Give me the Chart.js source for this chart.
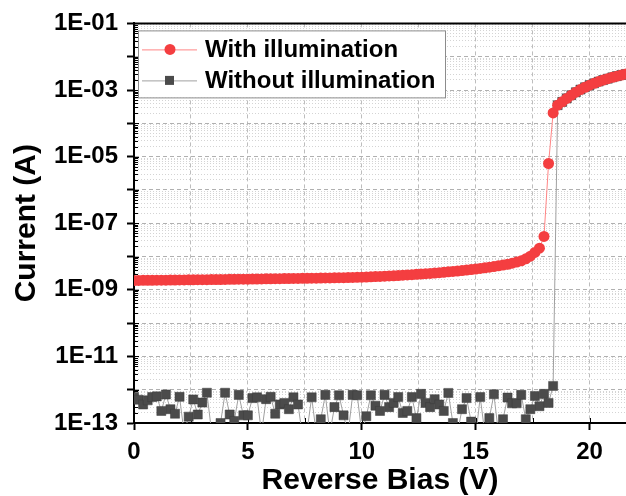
<!DOCTYPE html>
<html>
<head>
<meta charset="utf-8">
<script src="https://cdn.jsdelivr.net/npm/chart.js@4.4.1/dist/chart.umd.min.js"></script>
<style>
  html, body { margin: 0; padding: 0; background: #fff; }
  #wrap { width: 626px; height: 496px; }
</style>
</head>
<body>
<div id="wrap"><canvas id="ivChart"></canvas></div>
<script>
// reverse bias sweep (V)
const biasV = [
  0.0, 0.2, 0.4, 0.6, 0.8, 1.0, 1.2, 1.4, 1.6, 1.8,
  2.0, 2.2, 2.4, 2.6, 2.8, 3.0, 3.2, 3.4, 3.6, 3.8,
  4.0, 4.2, 4.4, 4.6, 4.8, 5.0, 5.2, 5.4, 5.6, 5.8,
  6.0, 6.2, 6.4, 6.6, 6.8, 7.0, 7.2, 7.4, 7.6, 7.8,
  8.0, 8.2, 8.4, 8.6, 8.8, 9.0, 9.2, 9.4, 9.6, 9.8,
  10.0, 10.2, 10.4, 10.6, 10.8, 11.0, 11.2, 11.4, 11.6, 11.8,
  12.0, 12.2, 12.4, 12.6, 12.8, 13.0, 13.2, 13.4, 13.6, 13.8,
  14.0, 14.2, 14.4, 14.6, 14.8, 15.0, 15.2, 15.4, 15.6, 15.8,
  16.0, 16.2, 16.4, 16.6, 16.8, 17.0, 17.2, 17.4, 17.6, 17.8,
  18.0, 18.2, 18.4, 18.6, 18.8, 19.0, 19.2, 19.4, 19.6, 19.8,
  20.0, 20.2, 20.4, 20.6, 20.8, 21.0, 21.2, 21.4, 21.6
];

// current with illumination (A)
const photoCurrent = [
  1.90e-9, 1.91e-9, 1.92e-9, 1.92e-9, 1.93e-9, 1.94e-9, 1.95e-9, 1.95e-9, 1.96e-9, 1.97e-9,
  1.98e-9, 1.98e-9, 1.99e-9, 2.00e-9, 2.01e-9, 2.01e-9, 2.02e-9, 2.03e-9, 2.04e-9, 2.04e-9,
  2.05e-9, 2.06e-9, 2.07e-9, 2.08e-9, 2.08e-9, 2.09e-9, 2.10e-9, 2.11e-9, 2.12e-9, 2.13e-9,
  2.14e-9, 2.15e-9, 2.16e-9, 2.17e-9, 2.18e-9, 2.19e-9, 2.20e-9, 2.21e-9, 2.22e-9, 2.23e-9,
  2.24e-9, 2.25e-9, 2.27e-9, 2.28e-9, 2.29e-9, 2.31e-9, 2.32e-9, 2.34e-9, 2.35e-9, 2.37e-9,
  2.39e-9, 2.42e-9, 2.45e-9, 2.49e-9, 2.52e-9, 2.56e-9, 2.60e-9, 2.64e-9, 2.69e-9, 2.74e-9,
  2.79e-9, 2.85e-9, 2.91e-9, 2.97e-9, 3.04e-9, 3.11e-9, 3.19e-9, 3.27e-9, 3.36e-9, 3.46e-9,
  3.56e-9, 3.67e-9, 3.79e-9, 3.92e-9, 4.06e-9, 4.21e-9, 4.38e-9, 4.56e-9, 4.76e-9, 4.98e-9,
  5.23e-9, 5.51e-9, 5.83e-9, 6.30e-9, 6.80e-9, 7.40e-9, 8.50e-9, 1.02e-8, 1.32e-8, 1.78e-8,
  4.0e-8, 6.2e-6, 2.05e-4, 3.5e-4, 4.4e-4, 5.6e-4, 7.0e-4, 8.6e-4, 1.03e-3, 1.21e-3,
  1.40e-3, 1.59e-3, 1.79e-3, 1.99e-3, 2.19e-3, 2.40e-3, 2.61e-3, 2.82e-3, 3.03e-3
];

// current without illumination (A), noise floor then breakdown
const darkCurrent = [
  6.0e-13, 5.0e-13, 3.6e-13, 4.8e-13, 6.0e-13, 6.3e-13, 2.3e-13, 7.2e-13, 2.6e-13, 1.9e-13,
  6.1e-13, 0.5e-13, 1.55e-13, 5.1e-13, 1.8e-13, 4.1e-13, 8.1e-13, 0.6e-13, 0.7e-13, 1.0e-13,
  8.1e-13, 1.8e-13, 1.15e-13, 7.0e-13, 1.7e-13, 1.7e-13, 5.6e-13, 5.9e-13, 0.5e-13, 5.2e-13,
  6.1e-13, 1.9e-13, 3.6e-13, 4.0e-13, 2.6e-13, 5.9e-13, 3.6e-13, 0.4e-13, 0.6e-13, 5.9e-13,
  0.5e-13, 1.3e-13, 7.0e-13, 0.5e-13, 3.0e-13, 6.8e-13, 1.7e-13, 0.5e-13, 7.0e-13, 6.8e-13,
  0.5e-13, 1.6e-13, 6.8e-13, 3.3e-13, 2.3e-13, 7.0e-13, 3.0e-13, 4.0e-13, 6.0e-13, 2.0e-13,
  2.3e-13, 6.0e-13, 1.4e-13, 7.5e-13, 4.0e-13, 3.0e-13, 5.2e-13, 3.6e-13, 2.3e-13, 8.0e-13,
  1.0e-13, 0.5e-13, 2.6e-13, 5.6e-13, 1.1e-13, 0.4e-13, 6.0e-13, 0.5e-13, 1.4e-13, 7.3e-13,
  0.5e-13, 1.3e-13, 5.8e-13, 3.9e-13, 3.9e-13, 7.0e-13, 1.3e-13, 2.6e-13, 6.5e-13, 3.2e-13,
  7.5e-13, 4.0e-13, 1.3e-12, 3.5e-4, 4.4e-4, 5.6e-4, 7.0e-4, 8.6e-4, 1.03e-3, 1.21e-3,
  1.40e-3, 1.59e-3, 1.79e-3, 1.99e-3, 2.19e-3, 2.40e-3, 2.61e-3, 2.82e-3, 3.03e-3
];

const seriesLabels = ["With illumination", "Without illumination"];

// axis ticks
const xTicks = [0, 2.5, 5, 7.5, 10, 12.5, 15, 17.5, 20];
const xMax = 21.6;
const yDecades = [-13, -12, -11, -10, -9, -8, -7, -6, -5, -4, -3, -2, -1];
const yMantissas = [1, 2, 3, 4, 5, 6, 7, 8, 9];

const FONT = "'Liberation Sans', Arial, sans-serif";

function toPoints(ys) {
  return biasV.map((x, i) => ({ x, y: ys[i] }));
}

function isDecade(v) {
  const l = Math.log10(v);
  return Math.abs(l - Math.round(l)) < 1e-6;
}

function yTickList() {
  const out = [];
  yDecades.forEach((e) => {
    const mants = e === -1 ? [1] : yMantissas;
    mants.forEach((m) => {
      out.push({ value: Number(m + "e" + e), major: m === 1 });
    });
  });
  return out;
}

function yLabel(v) {
  if (!isDecade(v)) return "";
  const e = Math.round(Math.log10(v));
  if (Math.abs(e) % 2 === 0) return "";
  return "1E-" + String(-e).padStart(2, "0");
}

// small inward ticks, top frame and the boxed legend
const framePlugin = {
  id: "frame",
  beforeDatasetsDraw(chart) {
    const { ctx, chartArea, scales } = chart;
    ctx.save();
    ctx.strokeStyle = "#000";
    ctx.lineWidth = 1;
    scales.y.ticks.forEach((t) => {
      const py = Math.round(scales.y.getPixelForValue(t.value)) + 0.5;
      const len = t.major ? 5 : 4;
      ctx.beginPath();
      ctx.moveTo(chartArea.left, py);
      ctx.lineTo(chartArea.left + len, py);
      ctx.stroke();
    });
    scales.x.ticks.forEach((t) => {
      const px = Math.round(scales.x.getPixelForValue(t.value)) + 0.5;
      ctx.beginPath();
      ctx.moveTo(px, chartArea.bottom);
      ctx.lineTo(px, chartArea.bottom - 5);
      ctx.stroke();
    });
    ctx.restore();
  },
  afterDraw(chart) {
    const { ctx, chartArea } = chart;
    ctx.save();
    ctx.strokeStyle = "#000";
    ctx.lineWidth = 2;
    ctx.beginPath();
    ctx.moveTo(chartArea.left, chartArea.top);
    ctx.lineTo(chartArea.right, chartArea.top);
    ctx.stroke();

    const x0 = chartArea.left + 4;
    const y0 = chartArea.top + 7;
    ctx.fillStyle = "#fff";
    ctx.fillRect(x0, y0, 307, 67);
    ctx.strokeStyle = "#8c8c8c";
    ctx.lineWidth = 1;
    ctx.strokeRect(x0 + 0.5, y0 + 0.5, 307, 67);

    chart.data.datasets.forEach((ds, i) => {
      const cy = y0 + 19 + i * 31;
      ctx.strokeStyle = ds.borderColor;
      ctx.lineWidth = 1;
      ctx.beginPath();
      ctx.moveTo(x0 + 4, cy + 0.5);
      ctx.lineTo(x0 + 59, cy + 0.5);
      ctx.stroke();
      ctx.fillStyle = ds.pointBackgroundColor;
      if (ds.pointStyle === "rect") {
        ctx.fillRect(x0 + 27, cy - 4.5, 9, 9);
      } else {
        ctx.beginPath();
        ctx.arc(x0 + 32, cy, 5.5, 0, Math.PI * 2);
        ctx.fill();
      }
      ctx.fillStyle = "#000";
      ctx.font = "bold 24px " + FONT;
      ctx.textBaseline = "middle";
      ctx.textAlign = "left";
      ctx.fillText(ds.label, x0 + 67, cy + 1);
    });
    ctx.restore();
  },
};

Chart.defaults.font.family = FONT;
Chart.defaults.color = "#000";

new Chart(document.getElementById("ivChart"), {
  type: "scatter",
  data: {
    datasets: [
      {
        label: seriesLabels[0],
        data: toPoints(photoCurrent),
        showLine: true,
        borderColor: "#ff8585",
        borderWidth: 1,
        pointStyle: "circle",
        pointRadius: 5.5,
        pointBackgroundColor: "rgb(244, 62, 64)",
        pointBorderColor: "rgb(244, 62, 64)",
        pointBorderWidth: 0,
        tension: 0,
      },
      {
        label: seriesLabels[1],
        data: toPoints(darkCurrent),
        showLine: true,
        borderColor: "#a0a0a0",
        borderWidth: 1,
        pointStyle: "rect",
        pointRadius: 6.4,
        pointBackgroundColor: "#4b4b4b",
        pointBorderColor: "#3c3c3c",
        pointBorderWidth: 0.5,
        tension: 0,
      },
    ],
  },
  options: {
    responsive: true,
    maintainAspectRatio: false,
    animation: false,
    layout: { autoPadding: false, padding: { top: 21, right: 0, bottom: 0, left: 0 } },
    plugins: { legend: { display: false }, tooltip: { enabled: false } },
    scales: {
      x: {
        type: "linear",
        min: 0,
        max: xMax,
        afterBuildTicks: (scale) => {
          scale.ticks = xTicks.map((v) => ({ value: v }));
        },
        afterFit: (scale) => {
          scale.height = 73;
          scale.paddingLeft = 0;
          scale.paddingRight = 0;
        },
        ticks: {
          autoSkip: false,
          maxRotation: 0,
          padding: 8,
          font: { size: 24, weight: "bold" },
          callback: (v) => (v % 5 === 0 ? String(v) : ""),
        },
        grid: {
          color: "#bdbdbd",
          lineWidth: 1,
          tickLength: 7,
          tickWidth: 2,
          tickColor: (ctx) => (ctx.tick && ctx.tick.value % 5 === 0 ? "#000" : "rgba(0,0,0,0)"),
        },
        border: { color: "#000", width: 2, dash: [4, 3] },
        title: {
          display: true,
          text: "Reverse Bias (V)",
          font: { size: 30, weight: "bold", lineHeight: 1 },
          padding: { top: 0, bottom: 0 },
        },
      },
      y: {
        type: "logarithmic",
        min: 1e-13,
        max: 1e-1,
        afterBuildTicks: (scale) => {
          scale.ticks = yTickList();
        },
        afterFit: (scale) => { scale.width = 134; },
        ticks: {
          autoSkip: false,
          padding: 9,
          font: { size: 24, weight: "bold" },
          callback: (v) => yLabel(v),
        },
        grid: {
          color: (ctx) => (ctx.tick && isDecade(ctx.tick.value) ? "#b0b0b0" : "#d4d4d4"),
          lineWidth: 1,
          tickLength: 7,
          tickWidth: 2,
          tickColor: (ctx) => (ctx.tick && isDecade(ctx.tick.value) ? "#000" : "rgba(0,0,0,0)"),
        },
        border: {
          color: "#000",
          width: 2,
          dash: (ctx) => (ctx.tick && isDecade(ctx.tick.value) ? [4, 3] : [1, 2]),
        },
        title: {
          display: true,
          text: "Current (A)",
          font: { size: 30, weight: "bold", lineHeight: 1 },
          padding: { top: 12, bottom: 0 },
        },
      },
    },
  },
  plugins: [framePlugin],
});
</script>
</body>
</html>
